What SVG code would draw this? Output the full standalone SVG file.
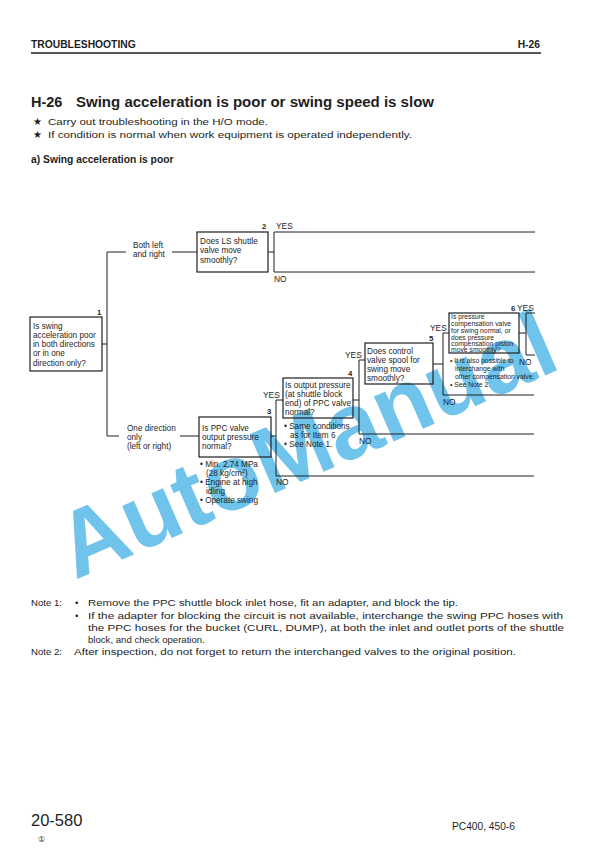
<svg xmlns="http://www.w3.org/2000/svg" width="612" height="864" viewBox="0 0 612 864">
<style>
.t{font-family:"Liberation Sans",Arial,sans-serif;fill:#1e1e1e}
.hb{font-weight:bold;font-size:10.3px}
.nb{font-weight:bold;font-size:7.8px}
.ti{font-weight:bold;font-size:14.5px}
.p{font-size:9.6px}
.n{font-size:8.2px}
.s{font-size:6.8px}
.lb{font-size:8.4px}
.bx{fill:none;stroke:#1e1e1e;stroke-width:1.2}
.ln{fill:none;stroke:#1e1e1e;stroke-width:1}
.wm{font-family:"Liberation Sans",Arial,sans-serif;font-weight:bold;fill:#70c4ec}
</style>
<rect width="612" height="864" fill="#ffffff"/>

<!-- watermark -->
<text class="wm" font-size="93" transform="translate(75,580) rotate(-23.5)">AutoManual</text>

<!-- header -->
<g id="header">
<text class="t hb" x="31" y="48">TROUBLESHOOTING</text>
<text class="t hb" x="540" y="48" text-anchor="end">H-26</text>
<line x1="31" y1="53" x2="541" y2="53" stroke="#1e1e1e" stroke-width="1.4"/>
<text class="t ti" x="31" y="107">H-26</text>
<text class="t ti" x="76" y="107" textLength="358" lengthAdjust="spacingAndGlyphs">Swing acceleration is poor or swing speed is slow</text>
<text class="t p" x="33" y="125">★</text>
<text class="t p" x="48" y="125" textLength="220" lengthAdjust="spacingAndGlyphs">Carry out troubleshooting in the H/O mode.</text>
<text class="t p" x="33" y="138">★</text>
<text class="t p" x="48" y="138" textLength="364" lengthAdjust="spacingAndGlyphs">If condition is normal when work equipment is operated independently.</text>
<text class="t hb" x="31" y="163">a) Swing acceleration is poor</text>
</g>

<!-- connectors -->
<g id="connectors">
<polyline class="ln" points="102,344 107,344"/>
<polyline class="ln" points="126,252 107,252 107,436 119,436"/>
<line class="ln" x1="172" y1="252" x2="197" y2="252"/>
<line class="ln" x1="180" y1="436" x2="199" y2="436"/>
<line class="ln" x1="268" y1="252" x2="274" y2="252"/>
<polyline class="ln" points="535,232 274,232 274,272 535,272"/>
<line class="ln" x1="271" y1="436" x2="276" y2="436"/>
<polyline class="ln" points="283,400 276,400 276,476 534,476"/>
<line class="ln" x1="353" y1="400" x2="359" y2="400"/>
<polyline class="ln" points="365,360 359,360 359,434 534,434"/>
<line class="ln" x1="433" y1="364" x2="443" y2="364"/>
<polyline class="ln" points="449,333 443,333 443,395 534,395"/>
<line class="ln" x1="519" y1="333" x2="526" y2="333"/>
<polyline class="ln" points="535,313 526,313 526,355 535,355"/>
</g>

<!-- branch labels -->
<g id="labels">
<text class="t n" x="133" y="248">Both left</text>
<text class="t n" x="133" y="256.5">and right</text>
<text class="t n" x="127" y="431">One direction</text>
<text class="t n" x="127" y="440">only</text>
<text class="t n" x="127" y="449">(left or right)</text>
<text class="t lb" x="276" y="229">YES</text>
<text class="t lb" x="274" y="282">NO</text>
<text class="t lb" x="263" y="398">YES</text>
<text class="t lb" x="276" y="485">NO</text>
<text class="t lb" x="345" y="358">YES</text>
<text class="t lb" x="359" y="444">NO</text>
<text class="t lb" x="430" y="331">YES</text>
<text class="t lb" x="443" y="405">NO</text>
<text class="t lb" x="517" y="311">YES</text>
<text class="t lb" x="519" y="365">NO</text>
</g>

<g id="node1">
<rect class="bx" x="30" y="317" width="72" height="54"/>
<text class="t nb" x="97" y="315">1</text>
<text class="t n" x="33" y="329">Is swing</text>
<text class="t n" x="33" y="338">acceleration poor</text>
<text class="t n" x="33" y="347">in both directions</text>
<text class="t n" x="33" y="356">or in one</text>
<text class="t n" x="33" y="366">direction only?</text>
</g>

<g id="node2">
<rect class="bx" x="197" y="232" width="71" height="40"/>
<text class="t nb" x="262" y="229">2</text>
<text class="t n" x="200" y="244">Does LS shuttle</text>
<text class="t n" x="200" y="253">valve move</text>
<text class="t n" x="200" y="263">smoothly?</text>
</g>

<g id="node3">
<rect class="bx" x="199" y="417" width="72" height="40"/>
<text class="t nb" x="267" y="414">3</text>
<text class="t n" x="202" y="431">Is PPC valve</text>
<text class="t n" x="202" y="440">output pressure</text>
<text class="t n" x="202" y="449">normal?</text>
<text class="t n" x="200" y="467">• Min. 2.74 MPa</text>
<text class="t n" x="206" y="476">(28 kg/cm<tspan font-size="5.5" dy="-3">2</tspan><tspan dy="3">)</tspan></text>
<text class="t n" x="200" y="485">• Engine at high</text>
<text class="t n" x="206" y="494">idling</text>
<text class="t n" x="200" y="503">• Operate swing</text>
</g>

<g id="node4">
<rect class="bx" x="283" y="378" width="70" height="40"/>
<text class="t nb" x="348" y="376">4</text>
<text class="t n" x="285" y="388">Is output pressure</text>
<text class="t n" x="285" y="397">(at shuttle block</text>
<text class="t n" x="285" y="406">end) of PPC valve</text>
<text class="t n" x="285" y="415">normal?</text>
<text class="t n" x="284" y="429">• Same conditions</text>
<text class="t n" x="290" y="438">as for Item 6</text>
<text class="t n" x="284" y="447">• See Note 1.</text>
</g>

<g id="node5">
<rect class="bx" x="365" y="343" width="68" height="41"/>
<text class="t nb" x="429" y="341">5</text>
<text class="t n" x="367" y="354">Does control</text>
<text class="t n" x="367" y="363">valve spool for</text>
<text class="t n" x="367" y="372">swing move</text>
<text class="t n" x="367" y="381">smoothly?</text>
</g>

<g id="node6">
<rect class="bx" x="449" y="313" width="70" height="40"/>
<text class="t nb" x="511" y="311">6</text>
<text class="t s" x="451" y="319">Is pressure</text>
<text class="t s" x="451" y="326">compensation valve</text>
<text class="t s" x="451" y="333">for swing normal, or</text>
<text class="t s" x="451" y="339.5">does pressure</text>
<text class="t s" x="451" y="346">compensation piston</text>
<text class="t s" x="451" y="352">move smoothly?</text>
<text class="t s" x="450" y="363">• It is also possible to</text>
<text class="t s" x="455" y="371">interchange with</text>
<text class="t s" x="455" y="379">other compensation valve.</text>
<text class="t s" x="450" y="387">• See Note 2.</text>
</g>

<!-- notes -->
<g id="notes">
<text class="t p" x="31" y="606">Note 1:</text>
<text class="t p" x="75" y="606">•</text>
<text class="t p" x="88" y="606" textLength="370" lengthAdjust="spacingAndGlyphs">Remove the PPC shuttle block inlet hose, fit an adapter, and block the tip.</text>
<text class="t p" x="75" y="619">•</text>
<text class="t p" x="88" y="619" textLength="475" lengthAdjust="spacingAndGlyphs">If the adapter for blocking the circuit is not available, interchange the swing PPC hoses with</text>
<text class="t p" x="88" y="631" textLength="476" lengthAdjust="spacingAndGlyphs">the PPC hoses for the bucket (CURL, DUMP), at both the inlet and outlet ports of the shuttle</text>
<text class="t p" x="88" y="643">block, and check operation.</text>
<text class="t p" x="31" y="655">Note 2:</text>
<text class="t p" x="74" y="655" textLength="442" lengthAdjust="spacingAndGlyphs">After inspection, do not forget to return the interchanged valves to the original position.</text>
</g>

<!-- footer -->
<g id="footer">
<text class="t" x="31" y="826" font-size="16.5">20-580</text>
<text class="t" x="38" y="842" font-size="8" fill="#666">①</text>
<text class="t" x="452" y="830" font-size="10.2">PC400, 450-6</text>
</g>
</svg>
